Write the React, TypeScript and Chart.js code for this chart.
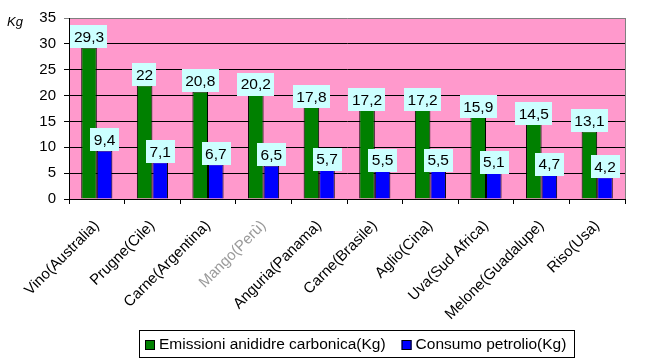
import React, { useEffect, useRef } from "react";
import { Chart, registerables } from "chart.js";

Chart.register(...registerables);

const categories = [
  "Vino(Australia)",
  "Prugne(Cile)",
  "Carne(Argentina)",
  "Mango(Perù)",
  "Anguria(Panama)",
  "Carne(Brasile)",
  "Aglio(Cina)",
  "Uva(Sud Africa)",
  "Melone(Guadalupe)",
  "Riso(Usa)",
];
const emissioni = [29.3, 22, 20.8, 20.2, 17.8, 17.2, 17.2, 15.9, 14.5, 13.1];
const petrolio = [9.4, 7.1, 6.7, 6.5, 5.7, 5.5, 5.5, 5.1, 4.7, 4.2];
const seriesNames = ["Emissioni anididre carbonica(Kg)", "Consumo petrolio(Kg)"];
const yTicks = { min: 0, max: 35, step: 5 };

const FONT = "Arial, 'Liberation Sans', sans-serif";

const fmt = (v: number) => String(v).replace(".", ",");

const decorPlugin = {
  id: "decor",
  beforeDraw(chart: any) {
    const { ctx, chartArea: a } = chart;
    ctx.save();
    ctx.fillStyle = "#ff99cc";
    ctx.fillRect(a.left, a.top, a.right - a.left, a.bottom - a.top);
    ctx.restore();
  },
  afterDatasetsDraw(chart: any) {
    const { ctx, chartArea: a } = chart;
    ctx.save();
    // right border grey
    ctx.strokeStyle = "#808080";
    ctx.lineWidth = 1;
    ctx.beginPath();
    ctx.moveTo(Math.round(a.right) + 0.5, a.top);
    ctx.lineTo(Math.round(a.right) + 0.5, a.bottom);
    ctx.stroke();
    // value labels
    ctx.font = `15.5px ${FONT}`;
    ctx.textAlign = "center";
    ctx.textBaseline = "middle";
    chart.data.datasets.forEach((ds: any, di: number) => {
      const meta = chart.getDatasetMeta(di);
      meta.data.forEach((el: any, i: number) => {
        const t = fmt(ds.data[i]);
        const w = ctx.measureText(t).width + 7;
        const h = 23;
        const cx = el.x;
        const bottom = el.y + 1;
        ctx.fillStyle = "#ccffff";
        ctx.fillRect(Math.round(cx - w / 2), Math.round(bottom - h), Math.round(w), h);
        ctx.fillStyle = "#000";
        ctx.fillText(t, cx, bottom - h / 2 + 1);
      });
    });
    ctx.restore();
  },
  afterDraw(chart: any) {
    const { ctx } = chart;
    ctx.save();
    // Kg label
    ctx.font = `italic 13px ${FONT}`;
    ctx.fillStyle = "#000";
    ctx.textAlign = "left";
    ctx.textBaseline = "middle";
    ctx.fillText("Kg", 7, 22);
    // legend
    ctx.font = `15.5px ${FONT}`;
    const colors = ["#008000", "#0000ff"];
    const w1 = ctx.measureText(seriesNames[0]).width;
    const w2 = ctx.measureText(seriesNames[1]).width;
    const total = 6 + 10 + 4 + w1 + 16 + 10 + 4 + w2 + 8;
    const cxL = 356.5;
    const left = Math.round(cxL - total / 2);
    const top = 330;
    const hgt = 27;
    ctx.strokeStyle = "#000";
    ctx.lineWidth = 1;
    ctx.strokeRect(left + 0.5, top + 0.5, Math.round(total), hgt);
    let x = left + 6;
    const midY = top + hgt / 2 + 1;
    [w1, w2].forEach((w, i) => {
      ctx.fillStyle = colors[i];
      ctx.fillRect(x, Math.round(midY - 5), 10, 10);
      ctx.strokeRect(x + 0.5, Math.round(midY - 5) + 0.5, 9, 9);
      ctx.fillStyle = "#000";
      ctx.textBaseline = "middle";
      ctx.fillText(seriesNames[i], x + 14, midY);
      x += 14 + w + 16;
    });
    ctx.restore();
  },
};

export default function App() {
  const ref = useRef<HTMLCanvasElement>(null);
  useEffect(() => {
    document.body.style.margin = "0";
    const chart = new Chart(ref.current!, {
      type: "bar",
      data: {
        labels: categories,
        datasets: [
          {
            label: seriesNames[0],
            data: emissioni,
            backgroundColor: "#008000",
            borderColor: "#000",
            borderWidth: 1,
            categoryPercentage: 0.56,
            barPercentage: 1,
          },
          {
            label: seriesNames[1],
            data: petrolio,
            backgroundColor: "#0000ff",
            borderColor: "#000",
            borderWidth: 1,
            categoryPercentage: 0.56,
            barPercentage: 1,
          },
        ],
      },
      options: {
        animation: false,
        responsive: false,
        devicePixelRatio: 1,
        layout: { padding: { left: 0, right: 23, top: 18, bottom: 0 } },
        plugins: { legend: { display: false }, tooltip: { enabled: false } },
        scales: {
          x: {
            offset: true,
            grid: {
              offset: true,
              drawOnChartArea: false,
              drawTicks: true,
              tickLength: 5,
              color: "#000",
            },
            border: { display: true, color: "#000" },
            ticks: {
              minRotation: 45,
              maxRotation: 45,
              autoSkip: false,
              padding: 13,
              font: { family: FONT, size: 15 },
              color: (c: any) => (c.index === 3 ? "#9a9a9a" : "#000"),
            },
            afterFit: (s: any) => {
              s.height = 163;
            },
          },
          y: {
            min: yTicks.min,
            max: yTicks.max,
            ticks: {
              stepSize: yTicks.step,
              padding: 8,
              font: { family: FONT, size: 15 },
              color: "#000",
            },
            grid: {
              color: (c: any) => (c.tick && c.tick.value === yTicks.max ? "#808080" : "#000"),
              tickLength: 5,
            },
            border: { display: true, color: "#000" },
            afterFit: (s: any) => {
              s.width = 69;
            },
          },
        },
      },
      plugins: [decorPlugin],
    });
    return () => chart.destroy();
  }, []);
  return (
    <div style={{ width: 648, height: 362 }}>
      <canvas ref={ref} width={648} height={362} style={{ display: "block" }} />
    </div>
  );
}
